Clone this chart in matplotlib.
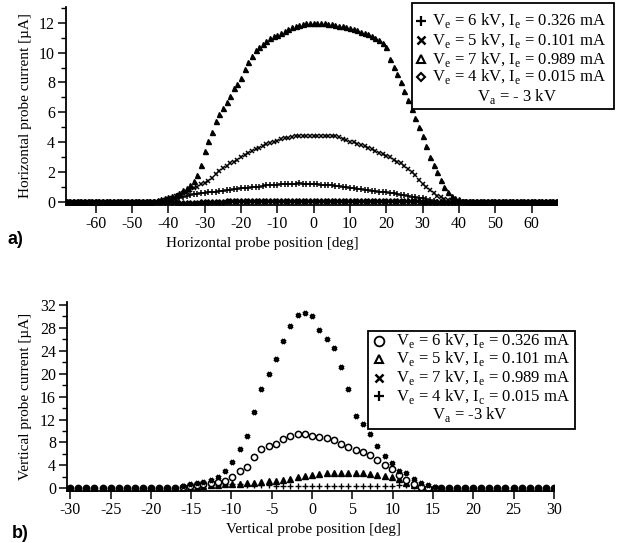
import numpy as np
import matplotlib
matplotlib.use("Agg")
import matplotlib.pyplot as plt
from matplotlib.patches import Rectangle
from matplotlib.lines import Line2D
from matplotlib.ticker import MultipleLocator

plt.rcParams['font.family'] = ['Liberation Serif', 'DejaVu Serif']
plt.rcParams['mathtext.fontset'] = 'custom'
plt.rcParams['mathtext.rm'] = 'Liberation Serif'

# ---------------- Panel a) horizontal scan ----------------
h_pos = np.arange(-68, 68)  # probe position [deg], 1 deg steps

h_7kV = [0, 0, 0, 0, 0, 0, 0, 0, 0, 0, 0, 0, 0, 0, 0, 0, 0, 0, 0, 0, 0, 0, 0,
         0.05, 0.1, 0.15, 0.2, 0.3, 0.35, 0.45, 0.5, 0.65, 0.8, 0.95, 1.15, 1.4, 1.8, 2.5,
         3.4, 4.1, 4.7, 5.4, 5.9, 6.3, 6.7, 7.1, 7.6, 7.9, 8.3, 8.9, 9.4, 9.8, 10.2,
         10.4, 10.6, 10.8, 10.95, 11.1, 11.2, 11.3, 11.45, 11.55, 11.7, 11.8, 11.85,
         11.9, 11.95, 12.0, 12.0, 12.0, 11.98, 11.95, 11.92, 11.88, 11.85, 11.8, 11.75,
         11.7, 11.65, 11.6, 11.5, 11.4, 11.3, 11.25, 11.1, 11.0, 10.85, 10.65, 10.35,
         9.6, 9.05, 8.55, 8.0, 7.45, 6.85, 6.25, 5.6, 5.0, 4.45, 3.75, 3.0, 2.5, 2.0,
         1.5, 1.0, 0.7, 0.45, 0.3, 0.2, 0.12, 0.06, 0.03,
         0, 0, 0, 0, 0, 0, 0, 0, 0, 0, 0, 0, 0, 0, 0, 0, 0, 0, 0, 0, 0, 0, 0, 0]

h_5kV = [0, 0, 0, 0, 0, 0, 0, 0, 0, 0, 0, 0, 0, 0, 0, 0, 0, 0, 0, 0, 0, 0, 0, 0, 0,
         0.05, 0.1, 0.15, 0.2, 0.3, 0.4, 0.5, 0.6, 0.7, 0.8, 0.95, 1.05, 1.2, 1.3, 1.45,
         1.65, 1.9, 2.1, 2.3, 2.45, 2.6, 2.7, 2.85, 3.0, 3.15, 3.3, 3.45, 3.55, 3.65,
         3.75, 3.9, 3.95, 4.05, 4.1, 4.2, 4.27, 4.3, 4.35, 4.4, 4.42, 4.43, 4.43, 4.43,
         4.43, 4.43, 4.43, 4.43, 4.43, 4.42, 4.4, 4.35, 4.25, 4.15, 4.05, 4.0, 3.9,
         3.85, 3.75, 3.65, 3.55, 3.4, 3.3, 3.2, 3.1, 3.0, 2.85, 2.7, 2.6, 2.4, 2.2, 2.0,
         1.8, 1.5, 1.25, 1.0, 0.8, 0.6, 0.45, 0.35, 0.25, 0.15, 0.1, 0.05,
         0, 0, 0, 0, 0, 0, 0, 0, 0, 0, 0, 0, 0, 0, 0, 0, 0, 0, 0, 0, 0, 0, 0, 0, 0, 0, 0, 0]

h_6kV = [0, 0, 0, 0, 0, 0, 0, 0, 0, 0, 0, 0, 0, 0, 0, 0, 0, 0, 0, 0, 0, 0, 0, 0, 0, 0, 0, 0,
         0.05, 0.1, 0.2, 0.28, 0.35, 0.42, 0.48, 0.53, 0.58, 0.62, 0.65, 0.68, 0.7, 0.72,
         0.75, 0.78, 0.8, 0.83, 0.86, 0.9, 0.95, 0.97, 0.98, 1.0, 1.02, 1.05, 1.1, 1.13,
         1.15, 1.17, 1.18, 1.19, 1.2, 1.2, 1.21, 1.23, 1.3, 1.22, 1.2, 1.2, 1.2, 1.19,
         1.18, 1.17, 1.16, 1.14, 1.1, 1.07, 1.03, 1.0, 0.97, 0.93, 0.9, 0.86, 0.82, 0.8,
         0.78, 0.75, 0.72, 0.7, 0.68, 0.65, 0.6, 0.55, 0.5, 0.46, 0.42, 0.38, 0.35, 0.3,
         0.26, 0.22, 0.15, 0.1, 0.05, 0.02,
         0, 0, 0, 0, 0, 0, 0, 0, 0, 0, 0, 0, 0, 0, 0, 0, 0, 0, 0, 0, 0, 0, 0, 0, 0, 0, 0, 0,
         0, 0, 0, 0]

h_4kV = [0, 0, 0, 0, 0, 0, 0, 0, 0, 0, 0, 0, 0, 0, 0, 0, 0, 0, 0, 0, 0, 0, 0, 0, 0, 0, 0, 0,
         0, 0, 0,
         -0.03, -0.03, -0.03, -0.02, -0.02, -0.02, -0.01, 0.03, 0.05, 0.05, 0.05, 0.05,
         0.05, 0.06, 0.06, 0.06, 0.06, 0.06, 0.06, 0.06, 0.06, 0.06, 0.06, 0.06, 0.07,
         0.07, 0.07, 0.07, 0.07, 0.07, 0.07, 0.07, 0.07, 0.07, 0.07, 0.07, 0.07, 0.07,
         0.07, 0.07, 0.07, 0.07,
         0.07, 0.07, 0.07, 0.07, 0.07, 0.07, 0.07, 0.07, 0.07, 0.07, 0.07, 0.07, 0.07,
         0.07, 0.06, 0.06, 0.06, 0.06, 0.06, 0.06, 0.06, 0.06, 0.06, 0.06, 0.06, 0.05,
         0.05, 0.05, 0.05, 0.05, 0.04, 0.03,
         0, 0, 0, 0, 0, 0, 0, 0, 0, 0, 0, 0, 0, 0, 0, 0, 0, 0, 0, 0, 0, 0, 0, 0, 0, 0, 0, 0,
         0, 0, 0]

h_xticks = [-60, -50, -40, -30, -20, -10, 0, 10, 20, 30, 40, 50, 60]
h_yticks = [0, 2, 4, 6, 8, 10, 12]

# ---------------- Panel b) vertical scan ----------------
v_pos = [-30, -29, -28, -27, -26, -25, -24, -23, -22, -21, -20, -19, -18, -17, -16,
         -15.2, -14.3, -13.5, -12.6, -11.7, -10.8, -9.9, -9.0, -8.1, -7.2, -6.3, -5.4,
         -4.5, -3.6, -2.7, -1.8, -0.9, 0.0, 0.9, 1.8, 2.7, 3.6, 4.5, 5.4, 6.3, 7.2, 8.1,
         9.0, 9.9, 10.8, 11.7, 12.6, 13.5, 14.4, 15.3,
         16, 17, 18, 19, 20, 21, 22, 23, 24, 25, 26, 27, 28, 29, 30]

v_6kV = [0, 0, 0, 0, 0, 0, 0, 0, 0, 0, 0, 0, 0, 0, 0.2,
         0.4, 0.6, 0.8, 1.0, 1.1, 1.3, 1.9, 3.0, 3.8, 5.5, 6.9, 7.4, 7.7, 8.6, 9.1, 9.5,
         9.55, 9.2, 9.0, 8.7, 8.4, 7.8, 7.2, 6.6, 6.35, 5.8, 4.9, 4.0, 3.3, 2.3, 1.5, 0.8,
         0.3, 0.1, 0.05,
         0, 0, 0, 0, 0, 0, 0, 0, 0, 0, 0, 0, 0, 0, 0]

v_5kV = [0, 0, 0, 0, 0, 0, 0, 0, 0, 0, 0, 0, 0, 0, 0.1,
         0.2, 0.3, 0.4, 0.5, 0.6, 0.7, 0.8, 0.8, 0.9, 1.0, 1.1, 1.2, 1.3, 1.4, 1.6, 2.0,
         2.2, 2.4, 2.5, 2.6, 2.75, 2.75, 2.75, 2.7, 2.6, 2.5, 2.4, 2.2, 2.0, 1.6, 1.0, 0.6,
         0.3, 0.1, 0.0,
         0, 0, 0, 0, 0, 0, 0, 0, 0, 0, 0, 0, 0, 0, 0]

v_7kV = [0, 0, 0, 0, 0, 0, 0, 0, 0, 0, 0, 0, 0, 0.1, 0.4,
         0.7, 0.9, 1.1, 1.5, 2.0, 3.1, 4.6, 6.8, 9.1, 13.3, 17.3, 20.0, 22.6, 25.7, 28.3,
         30.3, 30.6, 30.1, 27.7, 26.0, 24.4, 21.2, 17.4, 12.6, 11.2, 9.5, 7.3, 5.65, 4.4,
         3.1, 2.6, 1.6, 1.0, 0.6, 0.3,
         0, 0, 0, 0, 0, 0, 0, 0, 0, 0, 0, 0, 0, 0, 0]

v_4kV = [0, 0, 0, 0, 0, 0, 0, 0, 0, 0, 0, 0, 0, 0, 0.1,
         0.2, 0.3, 0.4, 0.5, 0.6, 0.7, 0.8, 0.7, 0.6, 0.5, 0.5, 0.5, 0.45, 0.45, 0.4, 0.4,
         0.4, 0.4, 0.4, 0.4, 0.4, 0.4, 0.4, 0.4, 0.4, 0.4, 0.4, 0.4, 0.4, 0.5, 0.5, 0.4,
         0.2, 0.1, 0.05,
         0, 0, 0, 0, 0, 0, 0, 0, 0, 0, 0, 0, 0, 0, 0]

v_xticks = [-30, -25, -20, -15, -10, -5, 0, 5, 10, 15, 20, 25, 30]
v_yticks = [0, 4, 8, 12, 16, 20, 24, 28, 32]

legend_a = [r'V$_\mathregular{e}$ = 6 kV, I$_\mathregular{e}$ = 0.326 mA',
            r'V$_\mathregular{e}$ = 5 kV, I$_\mathregular{e}$ = 0.101 mA',
            r'V$_\mathregular{e}$ = 7 kV, I$_\mathregular{e}$ = 0.989 mA',
            r'V$_\mathregular{e}$ = 4 kV, I$_\mathregular{e}$ = 0.015 mA']
va_a = r'V$_\mathregular{a}$ = - 3 kV'
legend_b = [r'V$_\mathregular{e}$ = 6 kV, I$_\mathregular{e}$ = 0.326 mA',
            r'V$_\mathregular{e}$ = 5 kV, I$_\mathregular{e}$ = 0.101 mA',
            r'V$_\mathregular{e}$ = 7 kV, I$_\mathregular{e}$ = 0.989 mA',
            r'V$_\mathregular{e}$ = 4 kV, I$_\mathregular{c}$ = 0.015 mA']
va_b = r'V$_\mathregular{a}$ = -3 kV'

# ---------------- Figure ----------------
W, H = 621, 543
fig = plt.figure(figsize=(W / 100, H / 100), dpi=100)


def fx(px):
    return px / W


def fy(py):
    return 1 - py / H


def style_axes(ax):
    for s in ('top', 'right'):
        ax.spines[s].set_visible(False)
    for s in ('left', 'bottom'):
        ax.spines[s].set_linewidth(1.3)
    ax.tick_params(axis='both', which='major', direction='out', length=6, width=1.1,
                   labelsize=11.5, pad=2)
    ax.tick_params(axis='y', which='minor', direction='out', length=3.5, width=1.0)
    ax.tick_params(axis='x', which='minor', length=0)


# panel a
axa = fig.add_axes([fx(66), fy(205), fx(557 - 66), (205 - 7) / H])
style_axes(axa)
axa.plot(h_pos, h_4kV, ls='none', marker='D', ms=2.8, color='black')
axa.plot(h_pos, h_6kV, ls='none', marker='+', ms=3.8, mew=1.1, color='black')
axa.plot(h_pos, h_5kV, ls='none', marker='x', ms=3.0, mew=1.1, color='black')
axa.plot(h_pos, h_7kV, ls='none', marker='^', ms=3.6, color='black')
axa.set_xlim(-68.2, 67.0)
axa.set_ylim(-0.18, 13.04)
axa.set_xticks(h_xticks)
axa.set_xticklabels([str(t) for t in h_xticks])
axa.set_yticks(h_yticks)
axa.yaxis.set_minor_locator(MultipleLocator(1))
axa.set_ylabel('Horizontal probe current [µA]', fontsize=11, labelpad=5)
fig.text(fx(262), fy(243), 'Horizontal probe position [deg]', fontsize=11,
         ha='center', va='center')
fig.text(fx(8), fy(240), 'a)', fontsize=13, fontweight='bold',
         family='Liberation Sans', ha='left', va='center')

# panel b
axb = fig.add_axes([fx(67), fy(491), fx(554 - 67), (491 - 302) / H])
style_axes(axb)
axb.plot(v_pos, v_4kV, ls='none', marker='+', ms=4.5, mew=1.0, color='black')
axb.plot(v_pos, v_5kV, ls='none', marker='^', ms=3.8, color='black')
axb.plot(v_pos, v_6kV, ls='none', marker='o', ms=4.5, mfc='white', mew=1.1,
         color='black')
axb.plot(v_pos, v_7kV, ls='none', marker='x', ms=3.4, mew=2.3, color='black')
axb.set_xlim(-30.41, 30.02)
axb.set_ylim(-0.47, 32.5)
axb.set_xticks(v_xticks)
axb.set_xticklabels([str(t) for t in v_xticks])
axb.set_yticks(v_yticks)
axb.yaxis.set_minor_locator(MultipleLocator(2))
axb.set_ylabel('Vertical probe current [µA]', fontsize=11, labelpad=6)
fig.text(fx(313), fy(530), 'Vertical probe position [deg]', fontsize=11,
         ha='center', va='center')
fig.text(fx(12), fy(533), 'b)', fontsize=13, fontweight='bold',
         family='Liberation Sans', ha='left', va='center')


def draw_legend(box, mx, tx, rows, labels, markers, va_label, va_x):
    x0, y0, x1, y1 = box
    fig.add_artist(Rectangle((fx(x0), fy(y1)), fx(x1 - x0), (y1 - y0) / H,
                             transform=fig.transFigure, fill=True, facecolor='white',
                             edgecolor='black', lw=1.3, zorder=5))
    for r, lab, mk in zip(rows[:4], labels, markers):
        m, ms, fill, mew = mk
        fig.add_artist(Line2D([fx(mx)], [fy(r)], marker=m, ms=ms, mew=mew,
                              mfc=('black' if fill else 'white'), mec='black',
                              ls='none', transform=fig.transFigure, zorder=6))
        fig.text(fx(tx), fy(r), lab, fontsize=12, ha='left', va='center', zorder=6)
    fig.text(fx(va_x), fy(rows[4]), va_label, fontsize=12, ha='center', va='center',
             zorder=6)


draw_legend((412, 3, 614, 109), 421, 432, [21, 40, 59, 77, 96], legend_a,
            [('+', 7, True, 1.6), ('x', 5.5, True, 1.8), ('^', 5.5, False, 1.5),
             ('D', 4.5, False, 1.5)], va_a, 517)
draw_legend((368, 331, 575, 429), 379, 396, [341, 359, 377.5, 396, 415], legend_b,
            [('o', 7, False, 1.3), ('^', 5.5, False, 1.5), ('x', 5.5, True, 1.8),
             ('+', 7, True, 1.6)], va_b, 470)

fig.savefig('out.png', dpi=100)
